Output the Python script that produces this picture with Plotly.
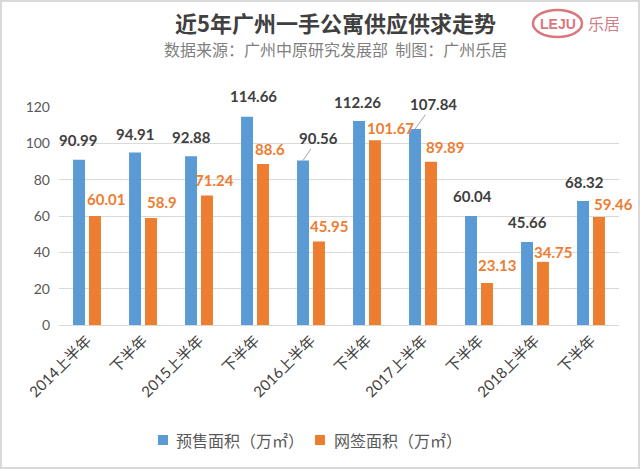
import plotly.graph_objects as go

categories = ["2014上半年", "下半年", "2015上半年", "下半年", "2016上半年",
              "下半年", "2017上半年", "下半年", "2018上半年", "下半年"]
presale = [90.99, 94.91, 92.88, 114.66, 90.56, 112.26, 107.84, 60.04, 45.66, 68.32]
signed = [60.01, 58.9, 71.24, 88.6, 45.95, 101.67, 89.89, 23.13, 34.75, 59.46]
y_ticks = [0, 20, 40, 60, 80, 100, 120]
series_names = ["预售面积（万㎡）", "网签面积（万㎡）"]
title_text = "近5年广州一手公寓供应供求走势"
subtitle_text = "数据来源：广州中原研究发展部  制图：广州乐居"

# label placement styling (pixel offsets from bar top)
blue_off = [(-1, 20), (0, 19), (0, 19), (6, 21), (15, 22), (-2, 19), (18, 25), (1, 20), (0, 20), (1, 19)]
blue_leader = [False, False, False, False, True, False, True, False, False, False]
orange_off = [(11, 16.5), (11, 15.6), (7, 15.4), (7, 15.5), (10, 15.7), (15, 12.7), (14, 15), (10, 18), (10, 10), (14, 12.5)]

BLUE = "#5b9bd5"
ORANGE = "#ed7d31"
W, H = 640, 469
ML, MR, MT, MB = 59, 21, 107, 144
PW, PH = W - ML - MR, H - MT - MB
CJK = "Noto Sans CJK SC"
NUM = "Lato, Noto Sans CJK SC"


def px(x):
    return (x - ML) / PW


def py(y):
    return (H - MB - y) / PH


xs = list(range(len(categories)))

fig = go.Figure()
fig.add_trace(go.Bar(x=xs, y=presale, name=series_names[0], marker=dict(color=BLUE, line=dict(width=0))))
fig.add_trace(go.Bar(x=xs, y=signed, name=series_names[1], marker=dict(color=ORANGE, line=dict(width=0))))

ann = []
for i, v in enumerate(presale):
    dx, dy = blue_off[i]
    if blue_leader[i]:
        ann.append(dict(x=i, y=v, xref="x", yref="y", text="<b>%s</b>" % v, showarrow=True,
                        ax=dx, ay=-dy, xshift=-8, arrowhead=0, arrowwidth=1, arrowcolor="#a6a6a6",
                        standoff=0, font=dict(family=NUM, size=15, color="#404040")))
    else:
        ann.append(dict(x=i, y=v, xref="x", yref="y", text="<b>%s</b>" % v, showarrow=False,
                        xshift=-8 + dx, yshift=dy, yanchor="middle",
                        font=dict(family=NUM, size=15, color="#404040")))
for i, v in enumerate(signed):
    dx, dy = orange_off[i]
    ann.append(dict(x=i, y=v, xref="x", yref="y", text="<b>%s</b>" % v, showarrow=False,
                    xshift=8 + dx, yshift=dy, yanchor="middle",
                    font=dict(family=NUM, size=15, color=ORANGE)))

ann.append(dict(x=px(335), y=py(22), xref="paper", yref="paper", text="<b>%s</b>" % title_text,
                showarrow=False, xanchor="center", yanchor="middle",
                font=dict(family=CJK, size=22, color="#404040")))
ann.append(dict(x=px(335), y=py(49), xref="paper", yref="paper", text=subtitle_text,
                showarrow=False, xanchor="center", yanchor="middle",
                font=dict(family=CJK, size=16, color="#7f7f7f")))
ann.append(dict(x=px(557.5), y=py(23.5), xref="paper", yref="paper", text="<b>LEJU</b>",
                showarrow=False, xanchor="center", yanchor="middle",
                font=dict(family="Liberation Sans", size=14, color="#d9777d")))
ann.append(dict(x=px(604), y=py(23), xref="paper", yref="paper", text="乐居",
                showarrow=False, xanchor="center", yanchor="middle",
                font=dict(family=CJK, size=16, color="#cf8086")))

# manual legend (text + swatches)
legend_colors = [BLUE, ORANGE]
legend_swatch_x = [158, 315]
legend_text_x = [174, 332]
shapes = []
for name, col, sx, tx in zip(series_names, legend_colors, legend_swatch_x, legend_text_x):
    shapes.append(dict(type="rect", xref="paper", yref="paper", x0=px(sx), x1=px(sx + 10),
                       y0=py(445), y1=py(435), fillcolor=col, line=dict(width=0)))
    ann.append(dict(x=px(tx), y=py(440), xref="paper", yref="paper", text=name, showarrow=False,
                    xanchor="left", yanchor="middle", font=dict(family=CJK, size=16, color="#595959")))

shapes += [
    dict(type="circle", xref="paper", yref="paper", x0=px(533), x1=px(582), y0=py(37), y1=py(10),
         line=dict(color="#d9777d", width=2.5)),
    dict(type="rect", xref="paper", yref="paper", x0=px(1), x1=px(639), y0=py(468), y1=py(1),
         line=dict(color="#d9d9d9", width=2), layer="below"),
]

fig.update_layout(
    width=W, height=H,
    margin=dict(l=ML, r=MR, t=MT, b=MB, autoexpand=False),
    paper_bgcolor="white", plot_bgcolor="white",
    barmode="group", bargap=0.43, bargroupgap=0.25,
    annotations=ann, shapes=shapes,
    showlegend=False,
    xaxis=dict(range=[-0.5, len(categories) - 0.5], tickmode="array", tickvals=xs, ticktext=categories,
               tickangle=-45, showgrid=False, showline=True, linecolor="#d9d9d9", linewidth=1,
               ticks="", zeroline=False, tickfont=dict(family=NUM, size=15, color="#404040")),
    yaxis=dict(range=[0, 120], tickmode="array", tickvals=y_ticks, showgrid=True, gridcolor="#d9d9d9",
               gridwidth=1, zeroline=False, showline=False, ticks="", ticklabelstandoff=8,
               tickfont=dict(family=NUM, size=14, color="#595959")),
)

fig.write_html("out.html", config={"displayModeBar": False},
               post_script="document.body.style.margin='0';document.body.style.overflow='hidden';")
